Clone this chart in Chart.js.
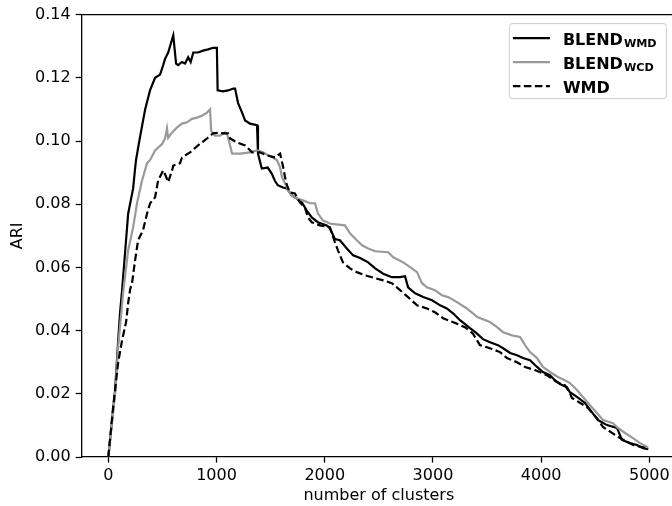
<!DOCTYPE html>
<html>
<head>
<meta charset="utf-8">
<script src="https://cdn.jsdelivr.net/npm/chart.js@4"></script>
<style>
    html, body { margin: 0; padding: 0; background: #fff; overflow: hidden; }
    #wrap { width: 680px; height: 506px; }
</style>
</head>
<body>
<div id="wrap"><canvas id="ariChart" width="680" height="506"></canvas></div>
<script>
// --- Data ---
const blendWmdX = [0, 62, 91, 109, 127, 146, 183, 229, 248, 256, 286, 340, 385, 432, 478, 507, 524, 553, 579, 600,
    626, 645, 680, 709, 738, 761, 785, 829, 876, 922, 968, 1003, 1010, 1060, 1107, 1155, 1171, 1199, 1236, 1264,
    1310, 1374, 1383, 1418, 1473, 1510, 1538, 1566, 1613, 1649, 1696, 1742, 1788, 1834, 1880, 1936, 2018, 2047,
    2094, 2140, 2204, 2262, 2327, 2401, 2466, 2540, 2620, 2696, 2742, 2770, 2835, 2910, 2992, 3066, 3128, 3188,
    3250, 3342, 3402, 3462, 3527, 3601, 3648, 3713, 3777, 3832, 3897, 3962, 4016, 4081, 4127, 4173, 4238, 4266,
    4331, 4405, 4469, 4525, 4608, 4701, 4747, 4821, 4886, 4941, 4990];
const blendWmdY = [0, 0.021, 0.037, 0.046, 0.0528, 0.061, 0.077, 0.085, 0.0916, 0.094, 0.100, 0.110, 0.116, 0.120,
    0.121, 0.124, 0.126, 0.128, 0.131, 0.1334, 0.1245, 0.124, 0.125, 0.1245, 0.1265, 0.125, 0.128, 0.128, 0.1286,
    0.129, 0.1295, 0.1295, 0.116, 0.1157, 0.116, 0.1166, 0.1166, 0.112, 0.109, 0.1065, 0.1055, 0.105, 0.096,
    0.0913, 0.0916, 0.0897, 0.0875, 0.086, 0.0853, 0.085, 0.0828, 0.0818, 0.0806, 0.078, 0.0758, 0.0743, 0.0733,
    0.0724, 0.069, 0.0686, 0.066, 0.0638, 0.063, 0.0616, 0.0597, 0.058, 0.0569, 0.0569, 0.0572, 0.0537, 0.0518,
    0.0506, 0.0496, 0.048, 0.047, 0.0454, 0.0433, 0.0408, 0.0392, 0.0373, 0.0363, 0.0354, 0.0344, 0.0329, 0.0322,
    0.0313, 0.0306, 0.0285, 0.0269, 0.0259, 0.0243, 0.0231, 0.0221, 0.0205, 0.019, 0.0171, 0.0142, 0.0117, 0.0101,
    0.0092, 0.0054, 0.0044, 0.0038, 0.0028, 0.0025];

const blendWcdX = [0, 62, 91, 137, 183, 229, 265, 311, 358, 386, 432, 496, 524, 542, 553, 589, 635, 681, 727, 773,
    819, 865, 912, 940, 950, 986, 1032, 1078, 1100, 1144, 1218, 1310, 1374, 1430, 1476, 1522, 1559, 1587, 1605,
    1633, 1661, 1696, 1742, 1799, 1864, 1910, 1936, 1982, 2047, 2109, 2186, 2233, 2296, 2345, 2401, 2466, 2587,
    2633, 2725, 2789, 2853, 2899, 2945, 3019, 3083, 3140, 3222, 3314, 3410, 3527, 3592, 3648, 3731, 3805, 3851,
    3897, 3962, 4016, 4099, 4155, 4220, 4266, 4331, 4386, 4451, 4516, 4571, 4664, 4710, 4775, 4849, 4914, 4990];
const blendWcdY = [0, 0.02, 0.035, 0.052, 0.0654, 0.0727, 0.0803, 0.0875, 0.093, 0.094, 0.097, 0.099, 0.1008,
    0.104, 0.101, 0.1027, 0.1043, 0.1055, 0.1059, 0.107, 0.1074, 0.108, 0.109, 0.110, 0.1033, 0.1017, 0.1017,
    0.1027, 0.102, 0.096, 0.096, 0.0964, 0.097, 0.0964, 0.0955, 0.0948, 0.0939, 0.0917, 0.0885, 0.0866, 0.0844,
    0.0828, 0.0818, 0.0812, 0.0803, 0.0803, 0.0771, 0.0749, 0.0739, 0.0736, 0.0733, 0.0708, 0.0686, 0.067, 0.066,
    0.0651, 0.0648, 0.0632, 0.0616, 0.0601, 0.0585, 0.055, 0.0537, 0.0528, 0.0512, 0.0506, 0.049, 0.047, 0.0443,
    0.0427, 0.0411, 0.0395, 0.0385, 0.038, 0.0354, 0.0332, 0.0313, 0.0285, 0.0265, 0.0253, 0.0243, 0.0234, 0.0212,
    0.019, 0.0164, 0.0139, 0.0117, 0.0107, 0.0092, 0.0076, 0.006, 0.0044, 0.003];

const wmdX = [0, 44, 90, 127, 164, 183, 201, 219, 247, 275, 320, 358, 386, 432, 460, 507, 530, 553, 589, 600, 663,
    681, 755, 829, 912, 968, 1032, 1060, 1107, 1125, 1190, 1264, 1329, 1402, 1464, 1538, 1587, 1616, 1633, 1650,
    1678, 1724, 1770, 1816, 1845, 1880, 1954, 2047, 2094, 2122, 2168, 2233, 2296, 2373, 2466, 2540, 2620, 2696,
    2770, 2853, 2945, 3019, 3094, 3200, 3300, 3370, 3434, 3527, 3620, 3684, 3777, 3851, 3943, 4053, 4146, 4220,
    4266, 4284, 4423, 4516, 4540, 4571, 4729, 4849, 4978];
const wmdY = [0, 0.0158, 0.0297, 0.037, 0.0427, 0.0487, 0.053, 0.055, 0.0622, 0.0686, 0.0717, 0.0771, 0.0803,
    0.0822, 0.0875, 0.0907, 0.089, 0.087, 0.0907, 0.0922, 0.093, 0.0948, 0.0964, 0.0986, 0.1008, 0.1024, 0.1027,
    0.1024, 0.1024, 0.1008, 0.0995, 0.0986, 0.0964, 0.0964, 0.0955, 0.0948, 0.096, 0.0917, 0.0885, 0.086, 0.0837,
    0.0834, 0.0806, 0.079, 0.0758, 0.0743, 0.0733, 0.0727, 0.068, 0.0654, 0.0616, 0.0597, 0.0585, 0.0575, 0.0566,
    0.0559, 0.055, 0.0528, 0.0506, 0.048, 0.047, 0.0458, 0.0439, 0.0425, 0.041, 0.039, 0.0354, 0.0344, 0.0332,
    0.0313, 0.03, 0.0285, 0.0275, 0.0259, 0.0237, 0.0227, 0.0202, 0.0187, 0.0158, 0.0123, 0.011, 0.0095, 0.006,
    0.0038, 0.0028];

const xTicks = [0, 1000, 2000, 3000, 4000, 5000];
const yTicks = [0, 0.02, 0.04, 0.06, 0.08, 0.10, 0.12, 0.14];

const seriesNames = ['BLEND', 'BLEND', 'WMD'];
const seriesSubs = ['WMD', 'WCD', ''];
const seriesColors = ['#000000', '#999999', '#000000'];
const seriesDashes = [[], [], [7.5, 3.5]];

const FONT = 'DejaVu Sans';
const LINE_W = 2.2;

function toPoints(xs, ys) {
    return xs.map((x, i) => ({ x: x, y: ys[i] }));
}

// --- Top spine (matplotlib box) ---
const framePlugin = {
    id: 'frame',
    afterDraw(chart) {
        const ctx = chart.ctx;
        const a = chart.chartArea;
        ctx.save();
        ctx.strokeStyle = '#000';
        ctx.lineWidth = 1.3;
        ctx.beginPath();
        ctx.moveTo(a.left, a.top);
        ctx.lineTo(a.right, a.top);
        ctx.lineTo(a.right, a.bottom);
        ctx.stroke();
        ctx.restore();
    }
};

// --- Legend with subscripts ---
const subLegendPlugin = {
    id: 'subLegend',
    afterDraw(chart) {
        const ctx = chart.ctx;
        const a = chart.chartArea;
        const boxR = a.right - 10.5;
        const boxL = boxR - 157;
        const boxT = a.top + 8.5;
        const boxH = 75;

        ctx.save();
        ctx.fillStyle = 'rgba(255,255,255,0.8)';
        ctx.strokeStyle = '#cccccc';
        ctx.lineWidth = 1;
        ctx.beginPath();
        ctx.roundRect(boxL + 0.5, boxT + 0.5, boxR - boxL, boxH, 3);
        ctx.fill();
        ctx.stroke();

        for (let i = 0; i < seriesNames.length; i++) {
            const rowY = boxT + 15 + i * 24;
            ctx.strokeStyle = seriesColors[i];
            ctx.lineWidth = LINE_W;
            ctx.setLineDash(seriesDashes[i]);
            ctx.beginPath();
            ctx.moveTo(boxL + 4, rowY);
            ctx.lineTo(boxL + 41, rowY);
            ctx.stroke();
            ctx.setLineDash([]);

            ctx.fillStyle = '#000';
            ctx.textBaseline = 'alphabetic';
            ctx.textAlign = 'left';
            ctx.font = 'bold 16px "' + FONT + '"';
            const tx = boxL + 54;
            const base = rowY + 6.5;
            ctx.fillText(seriesNames[i], tx, base);
            if (seriesSubs[i]) {
                const w = ctx.measureText(seriesNames[i]).width;
                ctx.font = 'bold 11.2px "' + FONT + '"';
                ctx.fillText(seriesSubs[i], tx + w + 1, base + 2);
            }
        }
        ctx.restore();
    }
};

document.addEventListener('DOMContentLoaded', () => {
    Chart.defaults.font.family = FONT;
    Chart.defaults.font.size = 16;
    Chart.defaults.color = '#000';

    const datasets = seriesNames.map((name, i) => ({
        label: name + seriesSubs[i],
        data: toPoints([blendWmdX, blendWcdX, wmdX][i], [blendWmdY, blendWcdY, wmdY][i]),
        borderColor: seriesColors[i],
        borderWidth: LINE_W,
        borderDash: seriesDashes[i],
        pointRadius: 0,
        tension: 0,
        fill: false,
        order: 2 - i
    }));

    const ctx = document.getElementById('ariChart').getContext('2d');
    new Chart(ctx, {
        type: 'line',
        data: { datasets: datasets },
        options: {
            responsive: false,
            animation: false,
            devicePixelRatio: 1,
            layout: { padding: { top: 13.4, right: 3.6, left: 0, bottom: 0 } },
            plugins: {
                legend: { display: false },
                tooltip: { enabled: false }
            },
            scales: {
                x: {
                    type: 'linear',
                    min: -250,
                    max: 5250,
                    afterBuildTicks: (scale) => { scale.ticks = xTicks.map(v => ({ value: v })); },
                    afterFit: (scale) => { scale.height = 49; },
                    ticks: { padding: 4, maxRotation: 0, autoSkip: false, callback: (v) => String(v) },
                    grid: { drawOnChartArea: false, drawTicks: true, tickLength: 5.6, tickWidth: 1.3, tickColor: '#000' },
                    border: { display: true, color: '#000', width: 1.3 },
                    title: { display: true, text: 'number of clusters', padding: { top: 0, bottom: 1 } }
                },
                y: {
                    type: 'linear',
                    min: 0,
                    max: 0.14,
                    afterBuildTicks: (scale) => { scale.ticks = yTicks.map(v => ({ value: v })); },
                    afterFit: (scale) => { scale.width = 81.3; },
                    ticks: { padding: 5, autoSkip: false, callback: (v) => Number(v).toFixed(2) },
                    grid: { drawOnChartArea: false, drawTicks: true, tickLength: 5.6, tickWidth: 1.3, tickColor: '#000' },
                    border: { display: true, color: '#000', width: 1.3 },
                    title: { display: true, text: 'ARI', padding: { top: 8, bottom: 0 } }
                }
            }
        },
        plugins: [framePlugin, subLegendPlugin]
    });
});
</script>
</body>
</html>
